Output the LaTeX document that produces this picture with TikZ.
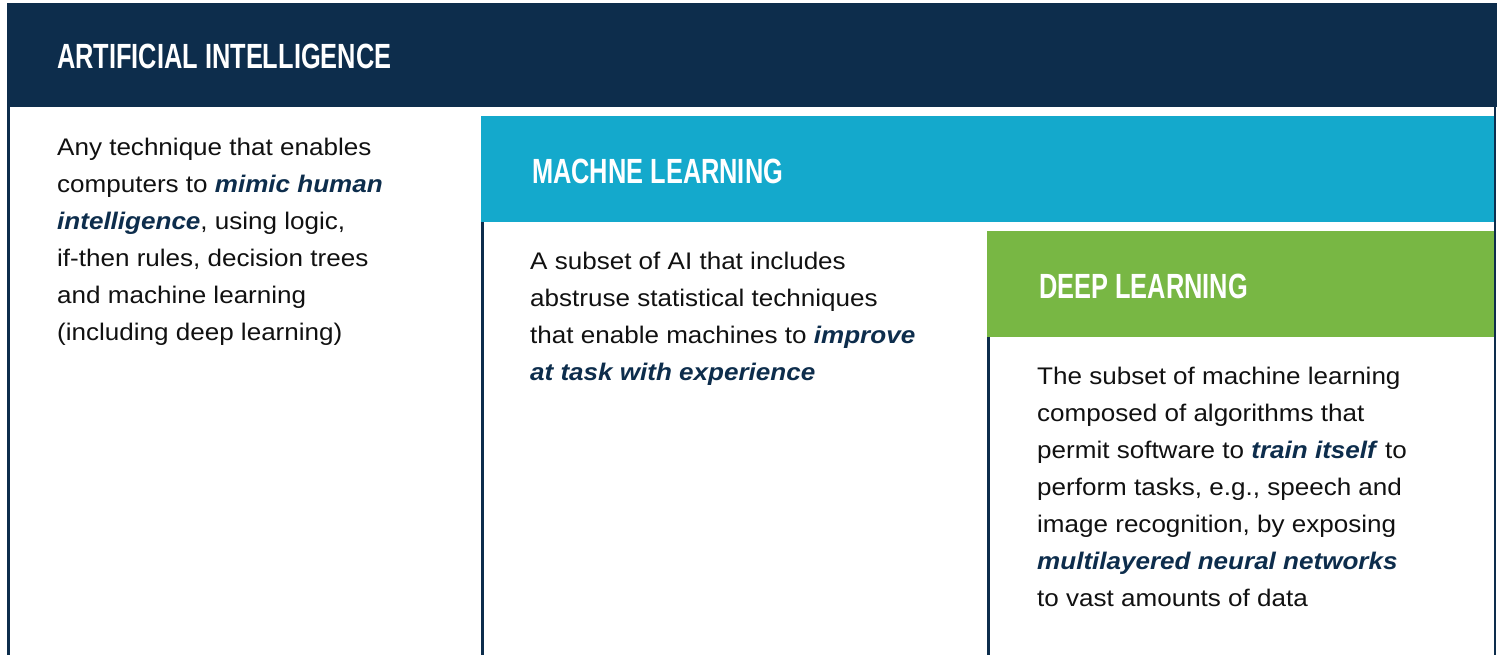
\documentclass[tikz,border=0pt]{standalone}
\usepackage{fontspec}
\setmainfont{Liberation Sans}[FakeStretch=1.085]
\newfontfamily\headfont[FakeStretch=0.725]{Liberation Sans Bold}
\definecolor{navy}{RGB}{13,45,76}
\definecolor{mlcyan}{RGB}{20,169,204}
\definecolor{dlgreen}{RGB}{120,183,68}
\definecolor{bodyk}{RGB}{17,17,17}
\newcommand{\emp}[1]{\textcolor{navy}{\textbf{\textit{#1}}}}
\tikzset{
  x=1pt, y=-1pt,
  edgeline/.style={draw=navy, line width=3pt},
  headtext/.style={anchor=base west, inner sep=0pt, text=white, font=\headfont\fontsize{35}{35}\selectfont},
  bodytext/.style={anchor=base west, inner sep=0pt, text=bodyk},
}
\newcommand{\bodyblock}[2]{\begin{minipage}[t]{#1pt}\fontsize{24}{37}\selectfont\raggedright #2\end{minipage}}
\begin{document}
\begin{tikzpicture}
\useasboundingbox (0,0) rectangle (1504,655);
\fill[white] (0,0) rectangle (1504,655);
% AI
\fill[navy] (7,3) rectangle (1497,107);
\draw[edgeline] (8.5,107) -- (8.5,655);
\draw[navy, line width=2pt] (1495,107) -- (1495,655);
\node[headtext] (aih) at (57,69) {ARTIFICIAL INTELLIGENCE};
\node[bodytext] (aib) at (57,155.5) {\bodyblock{440}{Any technique that enables\\
computers to \emp{mimic human}\\
\emp{intelligence}, using logic,\\
if-then rules, decision trees\\
and machine learning\\
(including deep learning)}};
% ML
\fill[mlcyan] (481,116) rectangle (1494,222);
\draw[edgeline] (482.5,222) -- (482.5,655);
\node[headtext] (mlh) at (532,184) {MACHNE LEARNING};
\node[bodytext] (mlb) at (530,269.5) {\bodyblock{460}{A subset of AI that includes\\
abstruse statistical techniques\\
that enable machines to \emp{improve}\\
\emp{at task with experience}}};
% DL
\fill[dlgreen] (987,231) rectangle (1494,337);
\draw[edgeline] (988.5,337) -- (988.5,655);
\node[headtext] (dlh) at (1039,298) {DEEP LEARNING};
\node[bodytext] (dlb) at (1037,384.5) {\bodyblock{460}{The subset of machine learning\\
composed of algorithms that\\
permit software to \emp{train itself} to\\
perform tasks, e.g., speech and\\
image recognition, by exposing\\
\emp{multilayered neural networks}\\
to vast amounts of data}};
\end{tikzpicture}
\end{document}
